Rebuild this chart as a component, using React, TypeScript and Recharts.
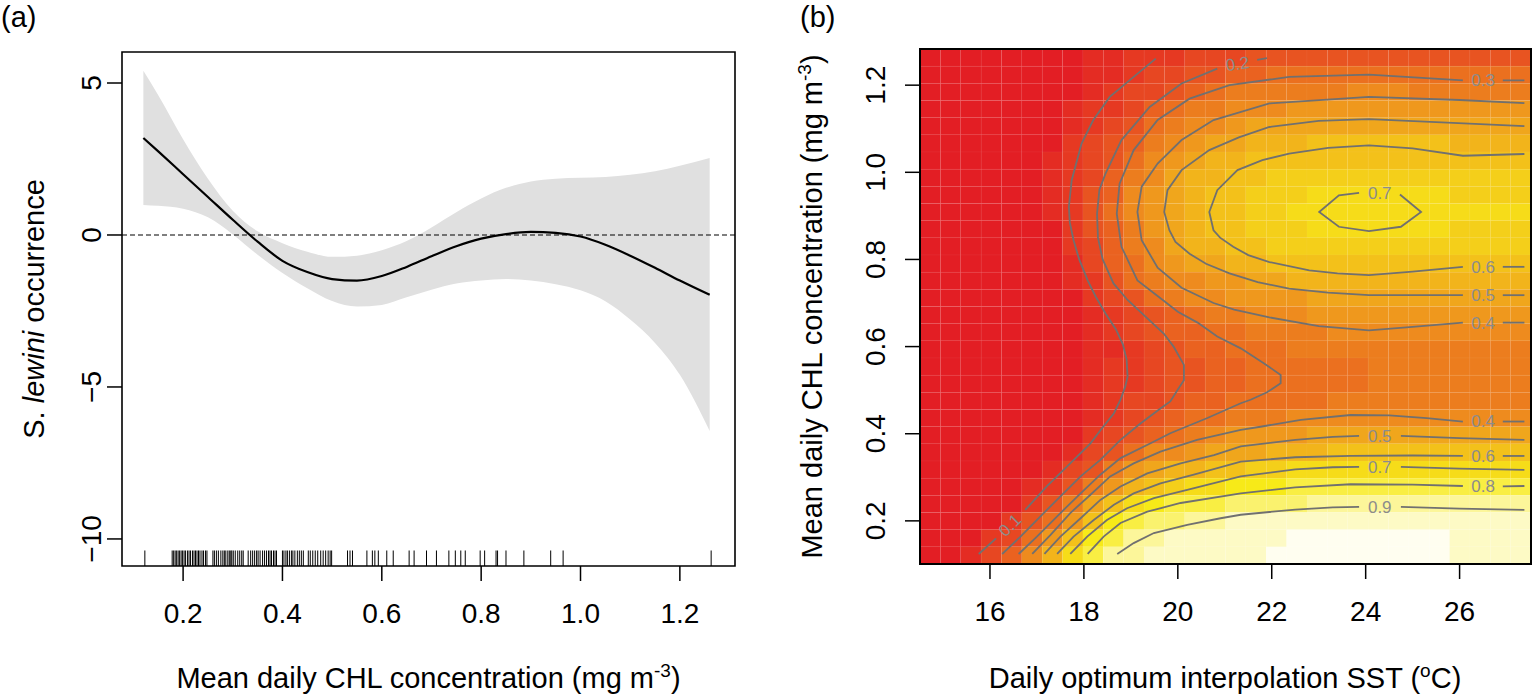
import React from "react";
import {
  ComposedChart,
  ScatterChart,
  Scatter,
  Line,
  Area,
  XAxis,
  YAxis,
  ReferenceLine,
  ReferenceArea,
} from "recharts";

const FONT = '"Liberation Sans", Arial, Helvetica, sans-serif';

// ---------------- Panel (a): GAM smooth of CHL ----------------
const chlSamples = [0.12, 0.15, 0.2, 0.25, 0.3, 0.35, 0.4, 0.45, 0.5, 0.55, 0.6, 0.65, 0.7, 0.75, 0.8, 0.85, 0.9, 0.95, 1.0, 1.05, 1.1, 1.15, 1.2, 1.26];
const fitValues = [3.19, 2.75, 2.0, 1.25, 0.5, -0.22, -0.85, -1.22, -1.45, -1.5, -1.35, -1.05, -0.7, -0.37, -0.12, 0.03, 0.1, 0.07, -0.05, -0.32, -0.68, -1.08, -1.5, -1.97];
const upperValues = [5.4, 4.6, 3.15, 1.85, 0.8, 0.12, -0.27, -0.55, -0.72, -0.68, -0.5, -0.2, 0.25, 0.75, 1.2, 1.55, 1.76, 1.85, 1.88, 1.91, 1.98, 2.1, 2.28, 2.53];
const lowerValues = [0.99, 0.96, 0.86, 0.58, 0.02, -0.65, -1.25, -1.75, -2.17, -2.35, -2.3, -2.05, -1.8, -1.6, -1.5, -1.45, -1.5, -1.62, -1.82, -2.18, -2.78, -3.55, -4.6, -6.45];
const rugChl = [
  0.123,
  0.178, 0.181, 0.184, 0.187, 0.19, 0.193, 0.196, 0.199, 0.202, 0.205, 0.209, 0.212, 0.215, 0.219, 0.222, 0.225, 0.228, 0.231, 0.234, 0.238, 0.241, 0.245, 0.248,
  0.26, 0.263, 0.267, 0.271, 0.276, 0.28, 0.283, 0.286, 0.29, 0.293, 0.296, 0.298, 0.301, 0.305, 0.31, 0.314, 0.318, 0.321,
  0.331, 0.336, 0.34, 0.344, 0.348, 0.351, 0.355, 0.36, 0.364, 0.368, 0.372, 0.375, 0.378, 0.382, 0.385, 0.388,
  0.4, 0.403, 0.407, 0.41, 0.414, 0.418, 0.421, 0.425, 0.43, 0.434, 0.438, 0.442,
  0.452, 0.456, 0.461, 0.466, 0.471, 0.477, 0.482, 0.487, 0.492, 0.496, 0.499,
  0.531, 0.536, 0.541, 0.57, 0.581, 0.586, 0.593, 0.61, 0.623, 0.655, 0.665, 0.69, 0.71, 0.735, 0.748, 0.759, 0.768, 0.798, 0.807, 0.83, 0.833, 0.85, 0.886, 0.94, 0.965, 1.263,
];
const aXTicks = [0.2, 0.4, 0.6, 0.8, 1.0, 1.2];
const aYTicks = [-10, -5, 0, 5];
const aXDomain = [0.077, 1.311];
const aYDomain = [-10.89, 6.02];
const rugTop = -10.38;

// ---------------- Panel (b): vis.gam heat map ----------------
const sstCenters = [14.727, 15.161, 15.594, 16.028, 16.462, 16.895, 17.329, 17.763, 18.197, 18.63, 19.064, 19.498, 19.931, 20.365, 20.799, 21.232, 21.666, 22.1, 22.534, 22.967, 23.401, 23.835, 24.268, 24.702, 25.136, 25.569, 26.003, 26.437, 26.871, 27.304];
const chlCenters = [0.1207, 0.1601, 0.1995, 0.2389, 0.2783, 0.3177, 0.3571, 0.3965, 0.4359, 0.4753, 0.5147, 0.5541, 0.5935, 0.6329, 0.6723, 0.7117, 0.7511, 0.7905, 0.8299, 0.8693, 0.9087, 0.9481, 0.9875, 1.0269, 1.0663, 1.1057, 1.1451, 1.1845, 1.2239, 1.2633];
// predicted probability per cell, top row first; one character per SST column, value = index in CODES x 0.05
const CODES = "0123456789abcdefghijk";
const probabilityRows = [
  "000000001122233344444444444444",
  "000000001123344556666666666666",
  "000000001233456777777888777777",
  "000000012235677888999999999999",
  "0000000123467889aaaaaaaaaaaaaa",
  "00000002345789aabbbcccccccbbbb",
  "0000001234689abbcccccccccccccc",
  "000000123578abbccddddddddddddd",
  "000000124589abccdddeeeeeeedddd",
  "000000124689abccddeeeeeeeeeeee",
  "000000024579abccdddeeeeeeedddd",
  "000000023578abbccddddddddddddd",
  "0000000135689aabbccccccccccccc",
  "0000000124678899aabbbbbbbbbbbb",
  "0000000023467889999aaaaaaaaaaa",
  "000000001234567788899999999999",
  "000000001234556677778888888888",
  "000000001123455666777777777777",
  "000000001223445566666677777777",
  "000000001223445566666677777777",
  "000000001233455666667777777777",
  "000000001234566777888888888888",
  "0000000023456789999aaaaaaaaaaa",
  "00000001346889aaabbbcccccccccc",
  "00000013479abbccddeeeeeeeeeeee",
  "0000012479bcdeefffgggggggggggg",
  "00000247acefggghhhhiiiiiiiiiii",
  "00002469cfghhiijjjjjjjjjjjjjjj",
  "0002369cfgiijjjjjjkkkkkkkkjjjj",
  "001358begiijjjjjjkkkkkkkkkjjjj",
];
const bXTicks = [16, 18, 20, 22, 24, 26];
const bYTicks = [0.2, 0.4, 0.6, 0.8, 1.0, 1.2];

// contour polylines [SST, CHL], split where the level label sits
const contour01 = [
  [[15.76, 0.124], [16.13, 0.16]],
  [[16.75, 0.225], [17.21, 0.279], [17.71, 0.332], [18.14, 0.378], [18.39, 0.413], [18.64, 0.447], [18.78, 0.478], [18.88, 0.508], [18.93, 0.531], [18.91, 0.57], [18.83, 0.605], [18.68, 0.64], [18.46, 0.676], [18.25, 0.715], [18.08, 0.752], [17.9, 0.8], [17.78, 0.844], [17.7, 0.885], [17.68, 0.921], [17.74, 0.982], [17.95, 1.066], [18.2, 1.12], [18.55, 1.173], [19.06, 1.219], [19.53, 1.261]],
];
const contour02 = [
  [[16.26, 0.124], [16.65, 0.164], [17.07, 0.21], [17.5, 0.256], [17.93, 0.302], [18.35, 0.34], [18.78, 0.386], [19.21, 0.424], [19.63, 0.458], [19.84, 0.474], [19.99, 0.5], [20.13, 0.523], [20.13, 0.558], [19.91, 0.6], [19.7, 0.63], [19.3, 0.67], [18.93, 0.707], [18.63, 0.745], [18.4, 0.8], [18.3, 0.85], [18.28, 0.905], [18.33, 0.96], [18.46, 0.997], [18.8, 1.074], [19.4, 1.15], [20.08, 1.204], [20.84, 1.238]],
  [[21.69, 1.258], [21.9, 1.262]],
];
const contour03 = [
  [[16.61, 0.124], [17.0, 0.164], [17.5, 0.218], [17.93, 0.263], [18.35, 0.306], [18.78, 0.344], [19.42, 0.378], [19.84, 0.401], [20.63, 0.436], [21.34, 0.47], [21.55, 0.478], [21.9, 0.495], [22.19, 0.516], [22.19, 0.535], [21.83, 0.562], [21.34, 0.596], [20.84, 0.623], [20.42, 0.655], [20.0, 0.68], [19.7, 0.705], [19.14, 0.752], [18.8, 0.829], [18.7, 0.905], [18.76, 0.974], [19.06, 1.051], [19.57, 1.12], [20.25, 1.169], [21.1, 1.2], [22.37, 1.219], [24.07, 1.224], [26.07, 1.211]],
  [[26.92, 1.211], [27.38, 1.211]],
];
const contour04 = [
  [[16.9, 0.124], [17.29, 0.168], [17.71, 0.218], [18.14, 0.26], [18.56, 0.302], [19.06, 0.332], [19.63, 0.359], [20.41, 0.386], [21.34, 0.409], [21.76, 0.416], [22.62, 0.432], [23.68, 0.443], [24.5, 0.442], [25.3, 0.436], [26.07, 0.428]],
  [[26.92, 0.428], [27.38, 0.428]],
  [[27.38, 0.655], [26.92, 0.655]],
  [[26.07, 0.655], [25.0, 0.645], [24.07, 0.637], [23.0, 0.647], [21.95, 0.667], [21.2, 0.685], [20.76, 0.7], [20.08, 0.735], [19.57, 0.781], [19.23, 0.844], [19.14, 0.909], [19.23, 0.967], [19.57, 1.02], [20.08, 1.074], [20.76, 1.12], [21.95, 1.158], [24.07, 1.173], [26.0, 1.166], [27.38, 1.159]],
];
const contour05 = [
  [[17.16, 0.124], [17.5, 0.164], [17.93, 0.206], [18.35, 0.248], [18.78, 0.279], [19.35, 0.309], [20.06, 0.332], [20.77, 0.351], [21.34, 0.371], [22.5, 0.386], [23.3, 0.393], [23.86, 0.395]],
  [[24.75, 0.395], [26.0, 0.39], [27.38, 0.386]],
  [[27.38, 0.718], [26.92, 0.718]],
  [[26.07, 0.718], [25.0, 0.718], [24.07, 0.718], [23.2, 0.724], [22.37, 0.733], [21.7, 0.748], [21.1, 0.768], [20.6, 0.79], [20.25, 0.813], [19.95, 0.84], [19.82, 0.867], [19.71, 0.909], [19.78, 0.959], [20.08, 1.005], [20.67, 1.051], [21.3, 1.08], [21.95, 1.104], [23.0, 1.118], [24.07, 1.122], [25.5, 1.115], [27.38, 1.106]],
];
const contour06 = [
  [[17.43, 0.124], [17.78, 0.164], [18.21, 0.202], [18.64, 0.237], [19.06, 0.263], [19.63, 0.286], [20.34, 0.306], [21.34, 0.336], [22.5, 0.346], [23.68, 0.349], [25.0, 0.35], [26.07, 0.349]],
  [[26.92, 0.349], [27.38, 0.349]],
  [[27.38, 0.783], [26.92, 0.783]],
  [[26.07, 0.783], [25.0, 0.772], [24.07, 0.764], [23.4, 0.768], [22.8, 0.775], [21.95, 0.794], [21.5, 0.81], [21.18, 0.829], [20.9, 0.85], [20.76, 0.867], [20.67, 0.909], [20.84, 0.959], [21.27, 1.005], [21.8, 1.028], [22.37, 1.043], [23.2, 1.056], [24.07, 1.062], [25.0, 1.055], [26.07, 1.038], [27.38, 1.042]],
];
const contour07 = [
  [[17.71, 0.124], [18.07, 0.164], [18.49, 0.202], [18.92, 0.229], [19.49, 0.252], [20.2, 0.271], [21.34, 0.302], [22.5, 0.318], [23.3, 0.323], [23.86, 0.324]],
  [[24.75, 0.324], [26.0, 0.32], [27.38, 0.317]],
  [[24.73, 0.949], [25.18, 0.909], [24.75, 0.875], [24.07, 0.865], [23.43, 0.875], [23.01, 0.909], [23.43, 0.947], [23.86, 0.953]],
];
const contour08 = [
  [[18.08, 0.124], [18.42, 0.164], [18.78, 0.195], [19.35, 0.221], [20.06, 0.241], [21.34, 0.263], [22.5, 0.277], [23.68, 0.284], [25.0, 0.283], [26.07, 0.28]],
  [[26.92, 0.279], [27.38, 0.28]],
];
const contour09 = [
  [[18.71, 0.124], [19.06, 0.149], [19.49, 0.172], [20.2, 0.191], [20.91, 0.206], [21.34, 0.214], [22.5, 0.226], [23.3, 0.231], [23.86, 0.232]],
  [[24.75, 0.232], [26.0, 0.228], [27.38, 0.225]],
];
const contourLabels = [
  { x: 16.42, y: 0.19, text: "0.1", angle: -44 },
  { x: 21.27, y: 1.249, text: "0.2", angle: -8 },
  { x: 26.5, y: 1.211, text: "0.3", angle: 0 },
  { x: 26.5, y: 0.783, text: "0.6", angle: 0 },
  { x: 26.5, y: 0.718, text: "0.5", angle: 0 },
  { x: 26.5, y: 0.655, text: "0.4", angle: 0 },
  { x: 24.3, y: 0.952, text: "0.7", angle: 0 },
  { x: 26.5, y: 0.428, text: "0.4", angle: 0 },
  { x: 24.3, y: 0.395, text: "0.5", angle: 0 },
  { x: 26.5, y: 0.349, text: "0.6", angle: 0 },
  { x: 24.3, y: 0.324, text: "0.7", angle: 0 },
  { x: 26.5, y: 0.279, text: "0.8", angle: 0 },
  { x: 24.3, y: 0.232, text: "0.9", angle: 0 },
];

// ---------------- helpers ----------------
function edgesOf(c: number[]): number[] {
  const e: number[] = [c[0] - (c[1] - c[0]) / 2];
  for (let i = 1; i < c.length; i++) e.push((c[i - 1] + c[i]) / 2);
  e.push(c[c.length - 1] + (c[c.length - 1] - c[c.length - 2]) / 2);
  return e;
}

function heatColor(z: number): string {
  const red = [227, 30, 36];
  const yel = [247, 234, 24];
  const wht = [255, 254, 240];
  let a = red, b = yel, t = 0;
  if (z <= 0.75) {
    t = z / 0.75;
  } else {
    a = yel;
    b = wht;
    t = (z - 0.75) / 0.25;
  }
  const c = a.map((v, k) => Math.round(v + (b[k] - v) * t));
  return `rgb(${c[0]},${c[1]},${c[2]})`;
}

const aData = chlSamples.map((x, i) => ({
  x,
  fit: fitValues[i],
  band: [lowerValues[i], upperValues[i]],
}));

const sstEdges = edgesOf(sstCenters);
const chlEdges = edgesOf(chlCenters);
const bXDomain = [sstEdges[0], sstEdges[sstEdges.length - 1]];
const bYDomain = [chlEdges[0], chlEdges[chlEdges.length - 1]];

const heatCells: { x1: number; x2: number; y1: number; y2: number; fill: string }[] = [];
probabilityRows.forEach((row, r) => {
  const j = probabilityRows.length - 1 - r;
  for (let i = 0; i < row.length; i++) {
    const z = CODES.indexOf(row[i]) * 0.05;
    heatCells.push({
      x1: sstEdges[i],
      x2: sstEdges[i + 1],
      y1: chlEdges[j],
      y2: chlEdges[j + 1],
      fill: heatColor(z),
    });
  }
});

const allContours = [contour01, contour02, contour03, contour04, contour05, contour06, contour07, contour08, contour09];
const contourSegs = allContours.flatMap((c) => c.map((seg) => seg.map(([x, y]) => ({ x, y }))));

const TICK_FONT = 28;
const minus = (v: number) => (v < 0 ? "\u2212" + Math.abs(v) : String(v));

const XTick = (fmt: (v: number) => string) => (props: any) => {
  const { x, y, payload } = props;
  return (
    <text x={x} y={y + TICK_FONT * 0.716} textAnchor="middle" fontSize={TICK_FONT} fontFamily={FONT} fill="#000">
      {fmt(payload.value)}
    </text>
  );
};
const YTick = (fmt: (v: number) => string) => (props: any) => {
  const { x, y, payload } = props;
  return (
    <text x={x} y={y} transform={`rotate(-90 ${x} ${y})`} textAnchor="middle" fontSize={TICK_FONT} fontFamily={FONT} fill="#000">
      {fmt(payload.value)}
    </text>
  );
};

const EmptyShape = () => <g />;
const LabelShape = (p: any) => {
  const { cx, cy, payload } = p;
  return (
    <text
      x={cx}
      y={cy}
      dy="0.35em"
      textAnchor="middle"
      fontSize={17}
      fontFamily={FONT}
      fill="#8c8c8c"
      transform={payload.angle ? `rotate(${payload.angle} ${cx} ${cy})` : undefined}
    >
      {payload.text}
    </text>
  );
};

export default function App() {
  return (
    <div style={{ position: "absolute", left: 0, top: 0, width: 1534, height: 698, background: "#fff", overflow: "hidden" }}>
      {/* Panel (a) */}
      <div style={{ position: "absolute", left: 0, top: 0 }}>
        <ComposedChart width={760} height={698} data={aData} margin={{ top: 52, right: 25, bottom: 92, left: 62 }}>
          <XAxis
            type="number"
            dataKey="x"
            domain={aXDomain}
            ticks={aXTicks}
            allowDataOverflow
            interval={0}
            axisLine={false}
            tickLine={{ stroke: "#000", strokeWidth: 1.5 }}
            tickSize={15}
            tickMargin={22}
            height={40}
            tick={XTick((v) => v.toFixed(1))}
          />
          <YAxis
            type="number"
            domain={aYDomain}
            ticks={aYTicks}
            allowDataOverflow
            interval={0}
            axisLine={false}
            tickLine={{ stroke: "#000", strokeWidth: 1.5 }}
            tickSize={15}
            tickMargin={6}
            width={60}
            tick={YTick(minus)}
          />
          <Area dataKey="band" type="monotone" fill="#e0e0e0" fillOpacity={1} stroke="none" isAnimationActive={false} />
          <ReferenceLine y={0} stroke="#000" strokeWidth={1.2} strokeDasharray="5 3" />
          <Line dataKey="fit" type="monotone" stroke="#000" strokeWidth={2.2} dot={false} isAnimationActive={false} />
          {rugChl.map((v, i) => (
            <ReferenceLine
              key={"rug" + i}
              segment={[
                { x: v, y: aYDomain[0] },
                { x: v, y: rugTop },
              ]}
              stroke="#000"
              strokeWidth={1}
            />
          ))}
          <ReferenceArea x1={aXDomain[0]} x2={aXDomain[1]} y1={aYDomain[0]} y2={aYDomain[1]} fill="none" stroke="#000" strokeWidth={1.6} ifOverflow="visible" />
        </ComposedChart>
      </div>

      {/* Panel (b) */}
      <div style={{ position: "absolute", left: 800, top: 0 }}>
        <ScatterChart width={734} height={698} margin={{ top: 49, right: 3, bottom: 94, left: 60 }}>
          <XAxis
            type="number"
            dataKey="x"
            domain={bXDomain}
            ticks={bXTicks}
            allowDataOverflow
            interval={0}
            axisLine={false}
            tickLine={{ stroke: "#000", strokeWidth: 1.5 }}
            tickSize={15}
            tickMargin={22}
            height={40}
            tick={XTick((v) => String(v))}
          />
          <YAxis
            type="number"
            dataKey="y"
            domain={bYDomain}
            ticks={bYTicks}
            allowDataOverflow
            interval={0}
            axisLine={false}
            tickLine={{ stroke: "#000", strokeWidth: 1.5 }}
            tickSize={15}
            tickMargin={20}
            width={60}
            tick={YTick((v) => v.toFixed(1))}
          />
          {heatCells.map((c, k) => (
            <ReferenceArea
              key={"cell" + k}
              x1={c.x1}
              x2={c.x2}
              y1={c.y1}
              y2={c.y2}
              fill={c.fill}
              fillOpacity={1}
              stroke="rgba(255,255,255,0.06)"
              strokeWidth={0.6}
              ifOverflow="visible"
            />
          ))}
          {contourSegs.map((seg, k) => (
            <Scatter
              key={"ct" + k}
              data={seg}
              line={{ stroke: "#707070", strokeWidth: 1.8 }}
              lineType="joint"
              shape={EmptyShape}
              isAnimationActive={false}
            />
          ))}
          <Scatter data={contourLabels} shape={LabelShape} isAnimationActive={false} />
          <ReferenceArea x1={bXDomain[0]} x2={bXDomain[1]} y1={bYDomain[0]} y2={bYDomain[1]} fill="none" stroke="#000" strokeWidth={2} ifOverflow="visible" />
        </ScatterChart>
      </div>

      {/* titles */}
      <svg width={1534} height={698} style={{ position: "absolute", left: 0, top: 0, pointerEvents: "none" }} fontFamily={FONT}>
        <text x={1} y={27} fontSize={29} fill="#000">(a)</text>
        <text x={800} y={27} fontSize={29} fill="#000">(b)</text>
        <text x={428.5} y={688} fontSize={29} textAnchor="middle" fill="#000">
          Mean daily CHL concentration (mg m<tspan dy={-11} fontSize={19}>-3</tspan>
          <tspan dy={11}>)</tspan>
        </text>
        <text x={1225} y={688} fontSize={29} textAnchor="middle" fill="#000">
          Daily optimum interpolation SST (<tspan dy={-11} fontSize={19}>o</tspan>
          <tspan dy={11}>C)</tspan>
        </text>
        <text transform="translate(44,309) rotate(-90)" fontSize={29} textAnchor="middle" fill="#000">
          S. <tspan fontStyle="italic">lewini</tspan> occurrence
        </text>
        <text transform="translate(822,306.5) rotate(-90)" fontSize={29} textAnchor="middle" fill="#000">
          Mean daily CHL concentration (mg m<tspan dy={-11} fontSize={19}>-3</tspan>
          <tspan dy={11}>)</tspan>
        </text>
      </svg>
    </div>
  );
}
